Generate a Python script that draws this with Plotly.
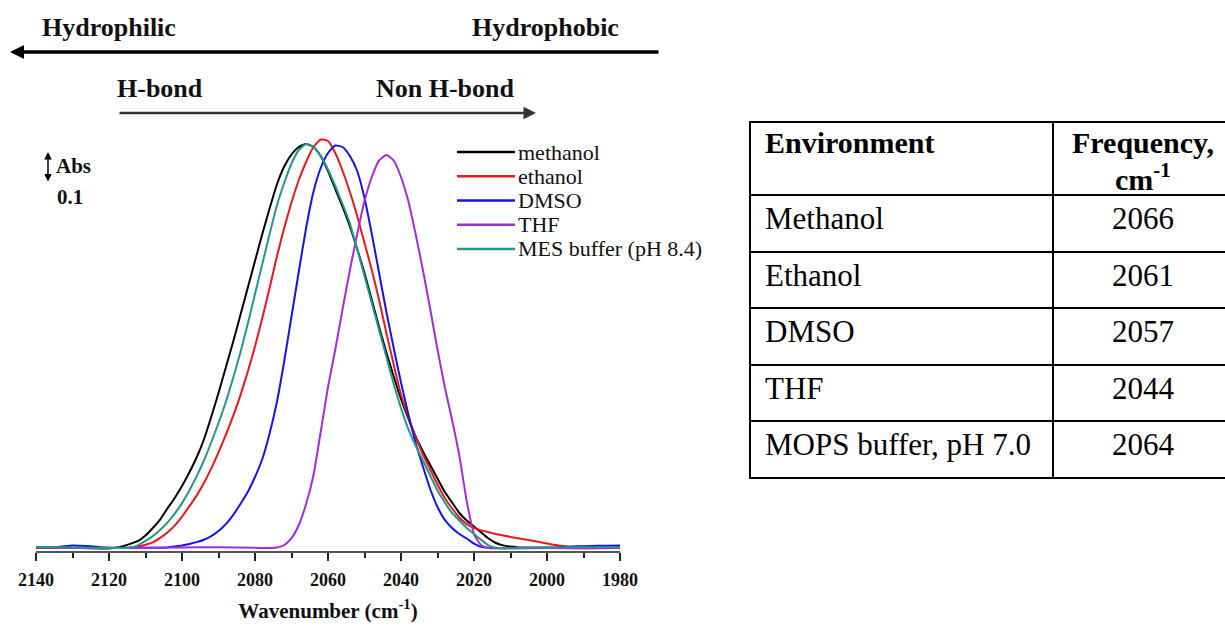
import plotly.graph_objects as go

# ---------------- data ----------------
wn_methanol = [2140, 2134, 2128, 2122, 2120, 2118, 2116, 2114, 2112, 2110, 2108, 2106, 2104, 2102, 2100,
               2098, 2096, 2094, 2092, 2090, 2088, 2086, 2084, 2082, 2080, 2078, 2076, 2074, 2072,
               2070, 2068, 2066, 2064, 2062, 2060, 2058, 2056, 2054, 2052, 2050, 2048, 2046, 2044,
               2042, 2040, 2038, 2036, 2034, 2032, 2030, 2028, 2026, 2024, 2022, 2020, 2018, 2016,
               2014, 2012, 2010, 2008, 2000, 1992, 1986, 1980]
abs_methanol = [0.003, 0.004, 0.003, 0.002, 0.002, 0.004, 0.01, 0.018, 0.027, 0.045, 0.07, 0.098, 0.135,
                0.17, 0.21, 0.255, 0.305, 0.365, 0.44, 0.52, 0.605, 0.69, 0.78, 0.87, 0.96, 1.05, 1.135,
                1.215, 1.275, 1.315, 1.34, 1.35, 1.34, 1.31, 1.26, 1.2, 1.14, 1.075, 1.0, 0.92, 0.83,
                0.74, 0.655, 0.575, 0.5, 0.435, 0.375, 0.325, 0.28, 0.235, 0.19, 0.155, 0.12, 0.095,
                0.075, 0.055, 0.035, 0.02, 0.012, 0.008, 0.005, 0.004, 0.003, 0.004, 0.005]

wn_ethanol = [2140, 2130, 2122, 2116, 2114, 2112, 2110, 2108, 2106, 2104, 2102, 2100, 2098, 2096, 2094,
              2092, 2090, 2088, 2086, 2084, 2082, 2080, 2078, 2076, 2074, 2072, 2070, 2068, 2066,
              2064, 2062, 2060, 2058, 2056, 2054, 2052, 2050, 2048, 2046, 2044, 2042, 2040, 2038,
              2036, 2034, 2032, 2030, 2028, 2026, 2024, 2022, 2020, 2018, 2016, 2014, 2012, 2010,
              2006, 2002, 1998, 1994, 1990, 1986, 1980]
abs_ethanol = [0.004, 0.003, 0.003, 0.003, 0.004, 0.008, 0.014, 0.022, 0.037, 0.055, 0.078, 0.108, 0.142,
               0.178, 0.22, 0.268, 0.322, 0.38, 0.443, 0.512, 0.59, 0.675, 0.77, 0.87, 0.975, 1.07, 1.155,
               1.23, 1.29, 1.34, 1.365, 1.36, 1.32, 1.26, 1.19, 1.11, 1.02, 0.93, 0.83, 0.72, 0.615,
               0.515, 0.44, 0.375, 0.315, 0.265, 0.215, 0.17, 0.135, 0.105, 0.083, 0.07, 0.062, 0.056,
               0.05, 0.045, 0.04, 0.032, 0.023, 0.014, 0.007, 0.004, 0.003, 0.004]

wn_dmso = [2140, 2134, 2130, 2126, 2122, 2116, 2110, 2104, 2102, 2100, 2098, 2096, 2094, 2092, 2090,
           2088, 2086, 2084, 2082, 2080, 2078, 2076, 2074, 2072, 2070, 2068, 2066, 2064, 2062, 2060,
           2058, 2056, 2054, 2052, 2050, 2048, 2046, 2044, 2042, 2040, 2038, 2036, 2034, 2032, 2030,
           2028, 2026, 2024, 2022, 2020, 2018, 2016, 2014, 2006, 1998, 1992, 1988, 1984, 1980]
abs_dmso = [0.005, 0.006, 0.012, 0.01, 0.006, 0.004, 0.004, 0.005, 0.008, 0.012, 0.017, 0.023, 0.031,
            0.043, 0.06, 0.083, 0.113, 0.15, 0.19, 0.24, 0.3, 0.385, 0.49, 0.625, 0.775, 0.925, 1.07,
            1.19, 1.27, 1.32, 1.345, 1.34, 1.31, 1.26, 1.17, 1.05, 0.92, 0.79, 0.67, 0.555, 0.45,
            0.355, 0.275, 0.2, 0.14, 0.097, 0.07, 0.05, 0.035, 0.018, 0.007, 0.004, 0.003, 0.004,
            0.005, 0.009, 0.01, 0.011, 0.012]

wn_thf = [2140, 2120, 2100, 2090, 2080, 2076, 2074, 2072, 2070, 2068, 2066, 2064, 2062, 2060, 2058,
          2056, 2054, 2052, 2050, 2048, 2046, 2044, 2042, 2040, 2038, 2036, 2034, 2032, 2030, 2028,
          2026, 2024, 2022, 2020, 2018, 2016, 2010, 2000, 1990, 1980]
abs_thf = [0.004, 0.003, 0.005, 0.006, 0.004, 0.003, 0.005, 0.013, 0.036, 0.08, 0.15, 0.245, 0.39, 0.54,
           0.665, 0.8, 0.93, 1.05, 1.16, 1.24, 1.295, 1.313, 1.295, 1.24, 1.16, 1.05, 0.93, 0.8, 0.665,
           0.54, 0.43, 0.31, 0.16, 0.05, 0.012, 0.003, 0.002, 0.003, 0.002, 0.003]

wn_mes = [2140, 2130, 2122, 2116, 2114, 2112, 2110, 2108, 2106, 2104, 2102, 2100, 2098, 2096, 2094,
          2092, 2090, 2088, 2086, 2084, 2082, 2080, 2078, 2076, 2074, 2072, 2070, 2068, 2066, 2064,
          2062, 2060, 2058, 2056, 2054, 2052, 2050, 2048, 2046, 2044, 2042, 2040, 2038, 2036, 2034,
          2032, 2030, 2028, 2026, 2024, 2022, 2020, 2018, 2016, 2014, 2006, 1996, 1988, 1980]
abs_mes = [0.006, 0.005, 0.004, 0.003, 0.005, 0.013, 0.027, 0.043, 0.063, 0.088, 0.118, 0.153, 0.195,
           0.242, 0.295, 0.355, 0.42, 0.49, 0.57, 0.655, 0.75, 0.85, 0.95, 1.05, 1.145, 1.22, 1.285,
           1.33, 1.35, 1.34, 1.31, 1.265, 1.21, 1.15, 1.085, 1.0, 0.91, 0.82, 0.73, 0.64, 0.55,
           0.47, 0.4, 0.345, 0.295, 0.245, 0.195, 0.155, 0.12, 0.095, 0.07, 0.05, 0.03, 0.012,
           0.004, 0.004, 0.005, 0.006, 0.006]

series_names = ["methanol", "ethanol", "DMSO", "THF", "MES buffer (pH 8.4)"]
series_colors = ["#000000", "#e8181c", "#1414e6", "#a52cd6", "#22978a"]

tick_values = [2140, 2120, 2100, 2080, 2060, 2040, 2020, 2000, 1980]

table_header = ["Environment", "Frequency,", "cm<sup>-1</sup>"]
table_env = ["Methanol", "Ethanol", "DMSO", "THF", "MOPS buffer, pH 7.0"]
table_freq = ["2066", "2061", "2057", "2044", "2064"]

# ---------------- layout helpers ----------------
W, H = 1225, 628
PL, PR, PT, PB = 36, 620, 100, 551
FONT = "Liberation Serif, Times New Roman, serif"


def fx(p):
    return (p - PL) / (PR - PL)


def fy(p):
    return (PB - p) / (PB - PT)


fig = go.Figure()
xs = [wn_methanol, wn_ethanol, wn_dmso, wn_thf, wn_mes]
ys = [abs_methanol, abs_ethanol, abs_dmso, abs_thf, abs_mes]
for name, x, y, c in zip(series_names, xs, ys, series_colors):
    fig.add_trace(go.Scatter(x=x, y=y, mode="lines", name=name, showlegend=False,
                             line=dict(color=c, width=2, shape="spline", smoothing=0.5)))

shapes = []
annotations = []

# legend (drawn manually)
for i, (name, c) in enumerate(zip(series_names, series_colors)):
    ly = 152 + 24.25 * i
    shapes.append(dict(type="line", xref="paper", yref="paper", x0=fx(457), x1=fx(515),
                       y0=fy(ly), y1=fy(ly), line=dict(color=c, width=2.5)))
    annotations.append(dict(text=name, xref="paper", yref="paper", x=fx(516), y=fy(ly),
                            xanchor="left", yanchor="middle", showarrow=False,
                            font=dict(family=FONT, size=22, color="#111")))

# top labels and arrows
bold = dict(family=FONT, size=26, color="#111", weight="bold")
annotations += [
    dict(text="Hydrophilic", xref="paper", yref="paper", x=fx(40), y=fy(27), xanchor="left",
         yanchor="middle", showarrow=False, font=bold),
    dict(text="Hydrophobic", xref="paper", yref="paper", x=fx(621), y=fy(27), xanchor="right",
         yanchor="middle", showarrow=False, font=bold),
    dict(text="", xref="paper", yref="paper", x=fx(10), y=fy(52), ax=650, ay=0, showarrow=True,
         arrowhead=2, arrowsize=0.8, arrowwidth=3.5, arrowcolor="#000"),
    dict(text="H-bond", xref="paper", yref="paper", x=fx(115), y=fy(88), xanchor="left",
         yanchor="middle", showarrow=False, font=bold),
    dict(text="Non H-bond", xref="paper", yref="paper", x=fx(517), y=fy(88), xanchor="right",
         yanchor="middle", showarrow=False, font=bold),
    dict(text="", xref="paper", yref="paper", x=fx(536), y=fy(113), ax=-418, ay=0, showarrow=True,
         arrowhead=2, arrowsize=1, arrowwidth=2.5, arrowcolor="#333"),
    # Abs scale bar
    dict(text="", xref="paper", yref="paper", x=fx(48), y=fy(152), ax=0, ay=31, showarrow=True,
         arrowside="end+start", arrowhead=2, startarrowhead=2, arrowsize=1, startarrowsize=1,
         arrowwidth=1.5, arrowcolor="#000"),
    dict(text="Abs", xref="paper", yref="paper", x=fx(54), y=fy(166), xanchor="left",
         yanchor="middle", showarrow=False, font=dict(family=FONT, size=21, weight="bold", color="#111")),
    dict(text="0.1", xref="paper", yref="paper", x=fx(55), y=fy(197), xanchor="left",
         yanchor="middle", showarrow=False, font=dict(family=FONT, size=21, weight="bold", color="#111")),
]

# table
TX0, TX1, TX2 = 750, 1053, 1233
row_lines = [122, 195, 252, 308, 365, 421, 478]
for yl in row_lines:
    shapes.append(dict(type="line", xref="paper", yref="paper", x0=fx(TX0 - 1), x1=fx(TX2),
                       y0=fy(yl), y1=fy(yl), line=dict(color="#000", width=2)))
for xl in (TX0, TX1, TX2):
    shapes.append(dict(type="line", xref="paper", yref="paper", x0=fx(xl), x1=fx(xl),
                       y0=fy(row_lines[0]), y1=fy(row_lines[-1]), line=dict(color="#000", width=2)))
tb = dict(family=FONT, size=30, color="#000", weight="bold")
tr = dict(family=FONT, size=31, color="#000")
colc = (TX1 + TX2) / 2
annotations += [
    dict(text=table_header[0], xref="paper", yref="paper", x=fx(763), y=fy(142), xanchor="left",
         yanchor="middle", showarrow=False, font=tb),
    dict(text=table_header[1], xref="paper", yref="paper", x=fx(colc), y=fy(142), xanchor="center",
         yanchor="middle", showarrow=False, font=tb),
    dict(text=table_header[2], xref="paper", yref="paper", x=fx(colc), y=fy(177), xanchor="center",
         yanchor="middle", showarrow=False, font=tb),
]
for i, (env, fr) in enumerate(zip(table_env, table_freq)):
    yc = row_lines[i + 1] + 23
    annotations.append(dict(text=env, xref="paper", yref="paper", x=fx(763), y=fy(yc), xanchor="left",
                            yanchor="middle", showarrow=False, font=tr))
    annotations.append(dict(text=fr, xref="paper", yref="paper", x=fx(colc), y=fy(yc), xanchor="center",
                            yanchor="middle", showarrow=False, font=tr))

fig.update_layout(
    width=W, height=H,
    margin=dict(l=PL, r=W - PR, t=PT, b=H - PB, autoexpand=False),
    paper_bgcolor="white", plot_bgcolor="white",
    shapes=shapes, annotations=annotations,
    showlegend=False,
    xaxis=dict(range=[2140, 1980], tickmode="array", tickvals=tick_values, automargin=False,
               ticks="outside", ticklen=8, tickwidth=1.5, tickcolor="#222",
               minor=dict(dtick=10, ticks="outside", ticklen=5, tickwidth=1.5, tickcolor="#222"),
               showline=True, linecolor="#555", linewidth=2, showgrid=False, zeroline=False,
               ticklabelstandoff=3,
               tickfont=dict(family=FONT, size=18, color="#111", weight="bold"),
               title=dict(text="<b>Wavenumber (cm<sup>-1</sup>)</b>", standoff=15,
                          font=dict(family=FONT, size=21, color="#111"))),
    yaxis=dict(range=[-0.00667, 1.49667], visible=False, showgrid=False, zeroline=False,
               automargin=False),
)

fig.write_html("out.html")
